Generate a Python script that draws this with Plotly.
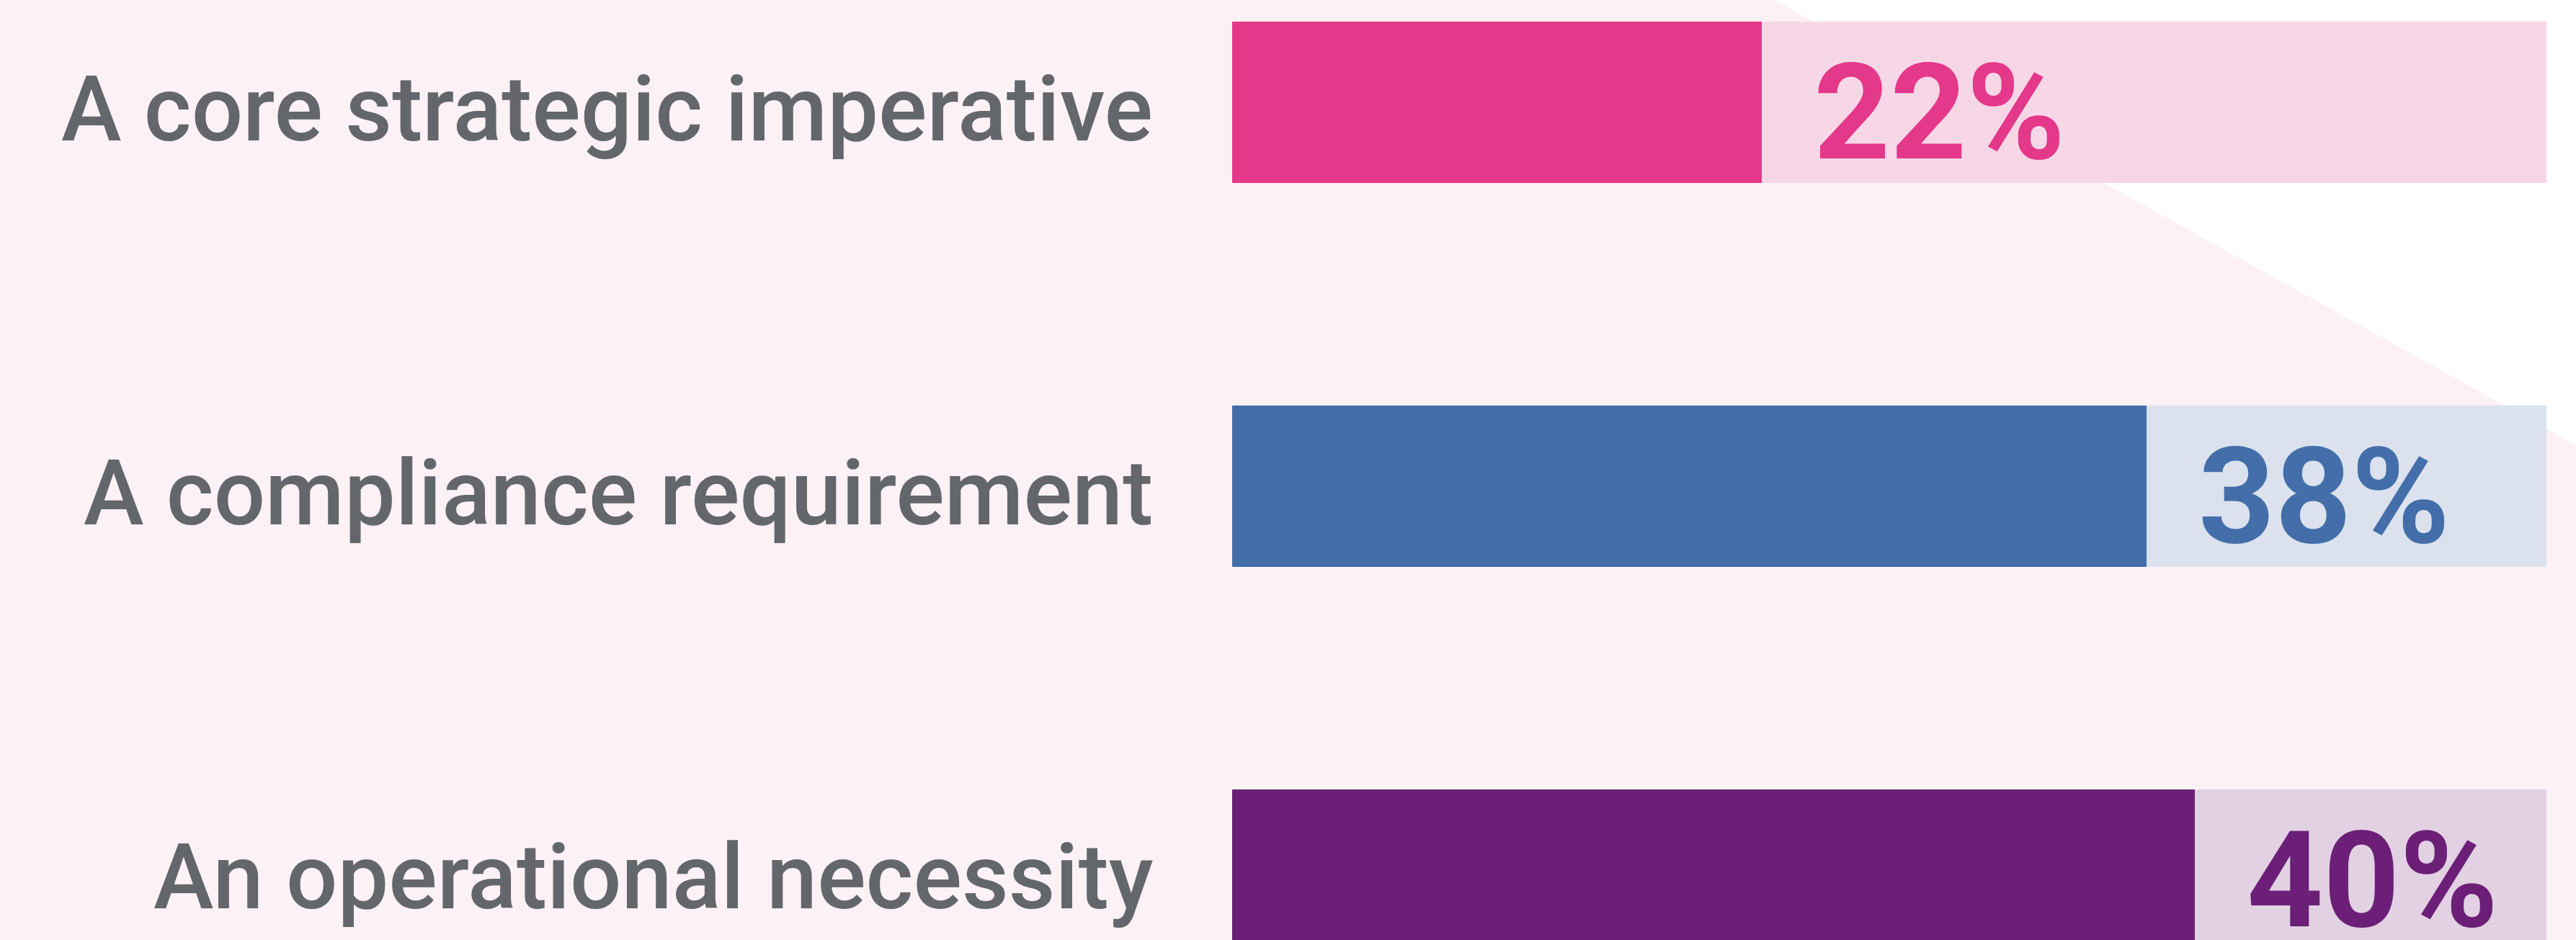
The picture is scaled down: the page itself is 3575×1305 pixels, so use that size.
import plotly.graph_objects as go

# survey answers, top to bottom
categories = ["A core strategic imperative", "A compliance requirement", "An operational necessity"]
values = [22, 38, 40]
track = [54.6, 54.6, 54.6]  # full length of the pale background bar

dark_colors = ["#e4388a", "#436ea9", "#6b1f77"]
light_colors = ["#f7d7e6", "#dbe2ee", "#e2d1e3"]

W, H = 3575, 1305

fig = go.Figure()

# pale background track
fig.add_trace(go.Bar(
    y=categories, x=track, orientation="h",
    marker_color=light_colors, marker_line_width=0,
    width=0.42, hoverinfo="skip", showlegend=False,
))
# actual share
fig.add_trace(go.Bar(
    y=categories, x=values, orientation="h",
    marker_color=dark_colors, marker_line_width=0,
    width=0.42, showlegend=False,
))

for cat, v, c in zip(categories, values, dark_colors):
    # percentage just after each bar
    fig.add_annotation(
        x=v, y=cat, xref="x", yref="y",
        text=f"{v}%", showarrow=False,
        xanchor="left", yanchor="middle", xshift=70, yshift=-15,
        font=dict(family="Roboto", size=185, color=c, weight="bold"),
    )
    # category label, right aligned left of the bars
    fig.add_annotation(
        x=0, y=cat, xref="x", yref="y",
        text=cat, showarrow=False,
        xanchor="right", yanchor="middle", xshift=-108, yshift=-10,
        font=dict(family="Roboto", size=126, color="#63666a", weight=500),
    )

# white wedge in the top right corner of the background
fig.add_shape(
    type="path", xref="paper", yref="paper", layer="below",
    path="M 0.689 1 L 1.0 1 L 1.0 0.5264 Z",
    fillcolor="white", line_width=0,
)

fig.update_layout(
    width=W, height=H,
    margin=dict(l=0, r=0, t=0, b=0),
    paper_bgcolor="#fcf1f5", plot_bgcolor="rgba(0,0,0,0)",
    barmode="overlay", bargap=0,
    xaxis=dict(
        domain=[1710 / W, 3534 / W], range=[0, 54.6],
        visible=False, fixedrange=True,
    ),
    yaxis=dict(
        type="category", range=[2.182, -0.266],
        showgrid=False, zeroline=False, showline=False, ticks="",
        showticklabels=False, fixedrange=True,
    ),
)

# drop the default page margin so the figure sits at the top-left corner
fig.write_html("out.html", config={"displayModeBar": False},
               post_script="document.body.style.margin='0';")
